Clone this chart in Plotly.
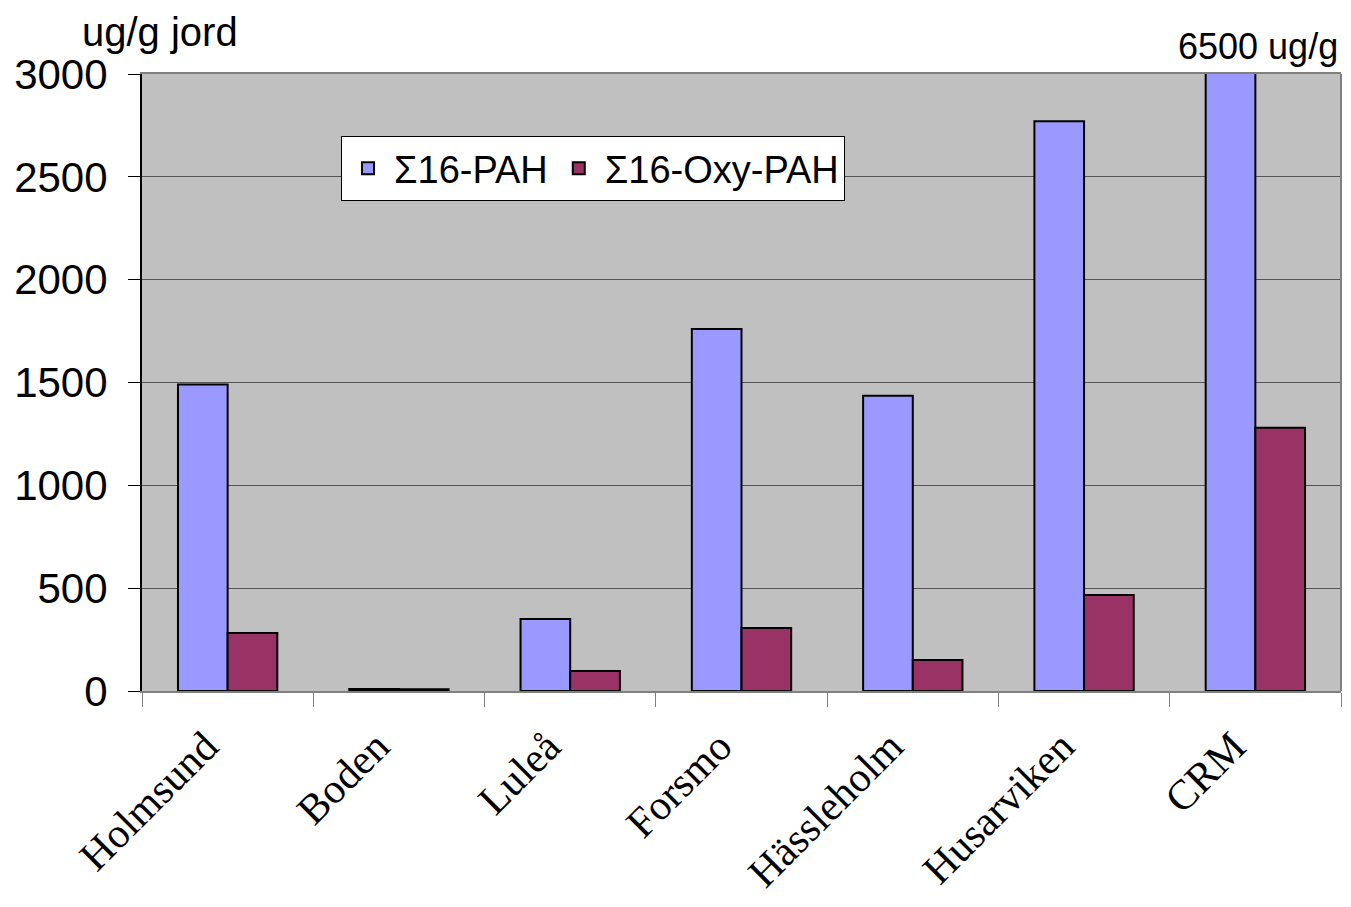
import plotly.graph_objects as go

sites = ["Holmsund", "Boden", "Luleå", "Forsmo", "Hässleholm", "Husarviken", "CRM"]
pah = [1490, 10, 350, 1760, 1435, 2770, 6500]
oxy_pah = [282, 8, 97, 306, 151, 467, 1280]
y_ticks = [0, 500, 1000, 1500, 2000, 2500, 3000]

fig = go.Figure()
fig.add_trace(go.Bar(x=sites, y=pah, name="Σ16-PAH",
                     marker=dict(color="#9999FF", line=dict(color="black", width=2))))
fig.add_trace(go.Bar(x=sites, y=oxy_pah, name="Σ16-Oxy-PAH",
                     marker=dict(color="#993366", line=dict(color="black", width=2))))

fig.update_layout(
    width=1335, height=891,
    margin=dict(l=134, r=2, t=66, b=208, autoexpand=False),
    paper_bgcolor="white", plot_bgcolor="#C0C0C0",
    barmode="group", bargap=0.42, bargroupgap=0,
    font=dict(family="Liberation Sans, Arial", color="black"),
    showlegend=True,
    legend=dict(orientation="h", x=0.166, y=0.8995, xanchor="left", yanchor="top",
                bgcolor="white", bordercolor="black", borderwidth=1,
                font=dict(size=38, family="Liberation Sans, Arial"),
                itemsizing="constant", itemwidth=42, tracegroupgap=0),
    xaxis=dict(type="category", tickson="boundaries", ticks="outside", ticklen=14,
               tickcolor="#808080", tickwidth=1, tickangle=-45,
               tickfont=dict(family="Liberation Serif, Times New Roman", size=42),
               ticklabelshift=-22, ticklabelstandoff=12,
               showline=True, linecolor="#808080", linewidth=2, mirror=True,
               showgrid=False),
    yaxis=dict(range=[0, 3000], tickvals=y_ticks, ticks="outside", ticklen=12,
               tickcolor="black", tickfont=dict(size=42), ticklabelstandoff=12,
               showline=True, linecolor="black", linewidth=2,
               showgrid=True, gridcolor="#555555", gridwidth=1, zeroline=False),
    annotations=[
        dict(text="ug/g jord", xref="paper", yref="paper", x=-0.0517, y=1.068,
             xanchor="left", yanchor="middle", showarrow=False, font=dict(size=40)),
        dict(text="6500 ug/g", xref="paper", yref="paper", x=0.9992, y=1.0438,
             xanchor="right", yanchor="middle", showarrow=False, font=dict(size=36)),
    ],
    shapes=[dict(type="line", xref="paper", yref="paper", x0=1, x1=1, y0=0, y1=1,
                 line=dict(color="#808080", width=2))],
)

fig.write_html("out.html")
